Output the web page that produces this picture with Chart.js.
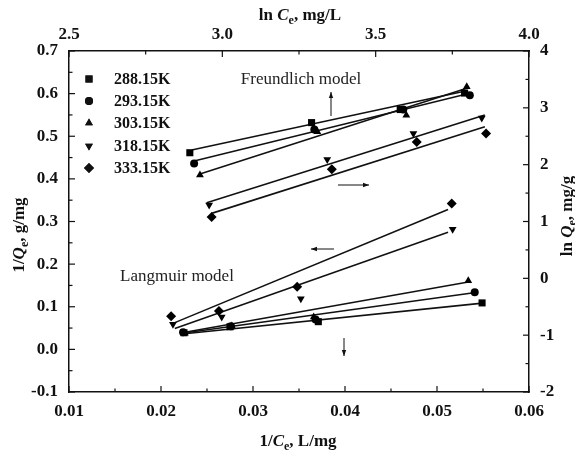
<!DOCTYPE html>
<html>
<head>
<meta charset="utf-8">
<script src="https://cdn.jsdelivr.net/npm/chart.js@4.4.0/dist/chart.umd.min.js"></script>
<style>
  html, body { margin: 0; padding: 0; background: #fff; }
  #wrap { width: 575px; height: 454px; position: relative; }
</style>
</head>
<body>
<div id="wrap"><canvas id="isoChart"></canvas></div>
<script>
// series names
const temps = ['288.15K', '293.15K', '303.15K', '318.15K', '333.15K'];

// Langmuir: 1/Ce (L/mg) vs 1/Qe (g/mg), one row per temperature
const langInvCe = [
  [0.0225, 0.0275, 0.0371, 0.0549],
  [0.0224, 0.0276, 0.0368, 0.0541],
  [0.0226, 0.0277, 0.0366, 0.0534],
  [0.0213, 0.0266, 0.0352, 0.0517],
  [0.0211, 0.0263, 0.0348, 0.0516]
];
const langInvQe = [
  [0.039, 0.053, 0.065, 0.109],
  [0.040, 0.054, 0.070, 0.134],
  [0.038, 0.055, 0.076, 0.161],
  [0.059, 0.076, 0.119, 0.282],
  [0.078, 0.090, 0.147, 0.342]
];
// Langmuir fitted lines (start, end)
const langFitX = [
  [0.0223, 0.0547],
  [0.0223, 0.0540],
  [0.0223, 0.0534],
  [0.0215, 0.0512],
  [0.0213, 0.0512]
];
const langFitY = [
  [0.036, 0.108],
  [0.038, 0.133],
  [0.039, 0.158],
  [0.049, 0.275],
  [0.061, 0.328]
];

// Freundlich: ln Ce vs ln Qe
const freLnCe = [
  [2.894, 3.291, 3.580, 3.790],
  [2.908, 3.300, 3.590, 3.807],
  [2.927, 3.310, 3.600, 3.797],
  [2.957, 3.342, 3.623, 3.846],
  [2.965, 3.357, 3.634, 3.860]
];
const freLnQe = [
  [2.21, 2.74, 2.97, 3.26],
  [2.02, 2.62, 2.97, 3.22],
  [1.82, 2.58, 2.87, 3.37],
  [1.29, 2.09, 2.55, 2.82],
  [1.08, 1.92, 2.40, 2.55]
];
// Freundlich fitted lines (start, end)
const freFitX = [
  [2.900, 3.797],
  [2.908, 3.807],
  [2.927, 3.797],
  [2.949, 3.856],
  [2.965, 3.856]
];
const freFitY = [
  [2.257, 3.300],
  [2.063, 3.255],
  [1.835, 3.343],
  [1.329, 2.873],
  [1.143, 2.667]
];

// tick labels
const bottomTicks = [0.01, 0.02, 0.03, 0.04, 0.05, 0.06];
const leftTicks = [-0.1, 0.0, 0.1, 0.2, 0.3, 0.4, 0.5, 0.6, 0.7];
const topTicks = [2.5, 3.0, 3.5, 4.0];
const rightTicks = [-2, -1, 0, 1, 2, 3, 4];

// marker look per series
const markerStyle = ['rect', 'circle', 'triangle', 'triangle', 'rectRot'];
const markerRot = [0, 0, 0, 180, 0];
const markerSize = [5, 4, 4.5, 4.5, 5];

const SERIF = '"Liberation Serif", "Times New Roman", serif';
const tickFont = { family: SERIF, size: 17, weight: 'bold' };

function pairs(xs, ys) {
  return xs.map((x, i) => ({ x: x, y: ys[i] }));
}

const datasets = [];
temps.forEach((name, i) => {
  const pt = {
    type: 'scatter',
    pointStyle: markerStyle[i],
    rotation: markerRot[i],
    pointRadius: markerSize[i],
    backgroundColor: '#000',
    borderColor: '#000',
    borderWidth: 0,
    order: 0
  };
  datasets.push(Object.assign({ label: name, data: pairs(langInvCe[i], langInvQe[i]), xAxisID: 'x', yAxisID: 'y' }, pt));
  datasets.push(Object.assign({ label: name + ' F', data: pairs(freLnCe[i], freLnQe[i]), xAxisID: 'x2', yAxisID: 'y2' }, pt));
  const ln = {
    type: 'scatter',
    showLine: true,
    pointRadius: 0,
    borderColor: '#111',
    borderWidth: 1.6,
    order: 1
  };
  datasets.push(Object.assign({ label: name + ' fitL', data: pairs(langFitX[i], langFitY[i]), xAxisID: 'x', yAxisID: 'y' }, ln));
  datasets.push(Object.assign({ label: name + ' fitF', data: pairs(freFitX[i], freFitY[i]), xAxisID: 'x2', yAxisID: 'y2' }, ln));
});

function axis(pos, min, max, list, digits, pad, size) {
  const horiz = pos === 'top' || pos === 'bottom';
  return {
    type: 'linear',
    position: pos,
    min: min,
    max: max,
    afterBuildTicks: s => { s.ticks = list.map(v => ({ value: v })); },
    afterFit: s => { if (horiz) s.height = size; else s.width = size; },
    ticks: {
      callback: v => Number(v).toFixed(digits),
      font: tickFont,
      color: '#111',
      padding: pad,
      autoSkip: false,
      maxRotation: 0
    },
    grid: { display: false },
    border: { display: true, color: '#111', width: 1.5 }
  };
}

function richText(ctx, parts, cx, cy, angle) {
  const fontOf = p => (p.i ? 'italic ' : '') + 'bold ' + (p.sub ? 12 : 17) + 'px ' + SERIF;
  ctx.save();
  ctx.translate(cx, cy);
  ctx.rotate(angle);
  let w = 0;
  parts.forEach(p => { ctx.font = fontOf(p); p.w = ctx.measureText(p.t).width; w += p.w; });
  let x = -w / 2;
  ctx.fillStyle = '#111';
  ctx.textAlign = 'left';
  ctx.textBaseline = 'alphabetic';
  parts.forEach(p => {
    ctx.font = fontOf(p);
    ctx.fillText(p.t, x, 6 + (p.sub ? 4 : 0));
    x += p.w;
  });
  ctx.restore();
}

function arrow(ctx, x1, y1, x2, y2) {
  const a = Math.atan2(y2 - y1, x2 - x1);
  ctx.beginPath();
  ctx.moveTo(x1, y1);
  ctx.lineTo(x2, y2);
  ctx.stroke();
  ctx.beginPath();
  ctx.moveTo(x2, y2);
  ctx.lineTo(x2 - 6 * Math.cos(a) + 2.2 * Math.sin(a), y2 - 6 * Math.sin(a) - 2.2 * Math.cos(a));
  ctx.lineTo(x2 - 6 * Math.cos(a) - 2.2 * Math.sin(a), y2 - 6 * Math.sin(a) + 2.2 * Math.cos(a));
  ctx.closePath();
  ctx.fill();
}

// inward major/minor ticks, notes, legend and axis titles
const decor = {
  id: 'decor',
  afterDraw(chart) {
    const ctx = chart.ctx;
    const a = chart.chartArea;
    ctx.save();
    ctx.strokeStyle = '#111';
    ctx.fillStyle = '#111';
    ctx.lineWidth = 1.2;

    const marks = (id, list) => {
      const s = chart.scales[id];
      const vals = [];
      list.forEach((v, i) => {
        vals.push([v, 6]);
        if (i < list.length - 1) vals.push([(v + list[i + 1]) / 2, 3.5]);
      });
      vals.forEach(([v, len]) => {
        const p = s.getPixelForValue(v);
        ctx.beginPath();
        if (id === 'x') { ctx.moveTo(p, a.bottom); ctx.lineTo(p, a.bottom - len); }
        if (id === 'x2') { ctx.moveTo(p, a.top); ctx.lineTo(p, a.top + len); }
        if (id === 'y') { ctx.moveTo(a.left, p); ctx.lineTo(a.left + len, p); }
        if (id === 'y2') { ctx.moveTo(a.right, p); ctx.lineTo(a.right - len, p); }
        ctx.stroke();
      });
    };
    marks('x', bottomTicks);
    marks('x2', topTicks);
    marks('y', leftTicks);
    marks('y2', rightTicks);

    // model notes
    ctx.font = '17px ' + SERIF;
    ctx.fillStyle = '#222';
    ctx.textAlign = 'center';
    ctx.textBaseline = 'middle';
    ctx.fillText('Freundlich model', 301, 80);
    ctx.fillText('Langmuir model', 177, 277);
    ctx.lineWidth = 1;
    ctx.fillStyle = '#111';
    arrow(ctx, 331, 116, 331, 92);
    arrow(ctx, 338, 185, 369, 185);
    arrow(ctx, 334, 249, 311, 249);
    arrow(ctx, 344, 338, 344, 356);

    // legend
    const rowY = [79, 101, 123, 146, 168];
    temps.forEach((name, i) => {
      Chart.helpers.drawPoint(ctx, {
        pointStyle: markerStyle[i],
        rotation: markerRot[i],
        radius: markerSize[i],
        borderWidth: 0
      }, 89, rowY[i]);
      ctx.fill();
      ctx.font = 'bold 16px ' + SERIF;
      ctx.textAlign = 'left';
      ctx.textBaseline = 'middle';
      ctx.fillStyle = '#111';
      ctx.fillText(name, 114, rowY[i] + 1);
    });

    // axis titles
    richText(ctx, [{ t: 'ln ' }, { t: 'C', i: true }, { t: 'e', sub: true }, { t: ', mg/L' }], 300, 14, 0);
    richText(ctx, [{ t: '1/' }, { t: 'C', i: true }, { t: 'e', sub: true }, { t: ', L/mg' }], 298, 440, 0);
    richText(ctx, [{ t: '1/' }, { t: 'Q', i: true }, { t: 'e', sub: true }, { t: ', g/mg' }], 18, 235, -Math.PI / 2);
    richText(ctx, [{ t: 'ln ' }, { t: 'Q', i: true }, { t: 'e', sub: true }, { t: ', mg/g' }], 566, 216, -Math.PI / 2);
    ctx.restore();
  }
};

new Chart(document.getElementById('isoChart'), {
  type: 'scatter',
  data: { datasets: datasets },
  options: {
    responsive: true,
    maintainAspectRatio: false,
    animation: false,
    layout: { padding: 0 },
    plugins: {
      legend: { display: false },
      tooltip: { enabled: false }
    },
    scales: {
      x: axis('bottom', 0.01, 0.06, bottomTicks, 2, 1, 62),
      y: axis('left', -0.1, 0.7, leftTicks, 1, 3, 69),
      x2: axis('top', 2.5, 4.0, topTicks, 1, -2, 51),
      y2: axis('right', -2, 4, rightTicks, 0, 3, 46)
    }
  },
  plugins: [decor]
});
</script>
</body>
</html>
